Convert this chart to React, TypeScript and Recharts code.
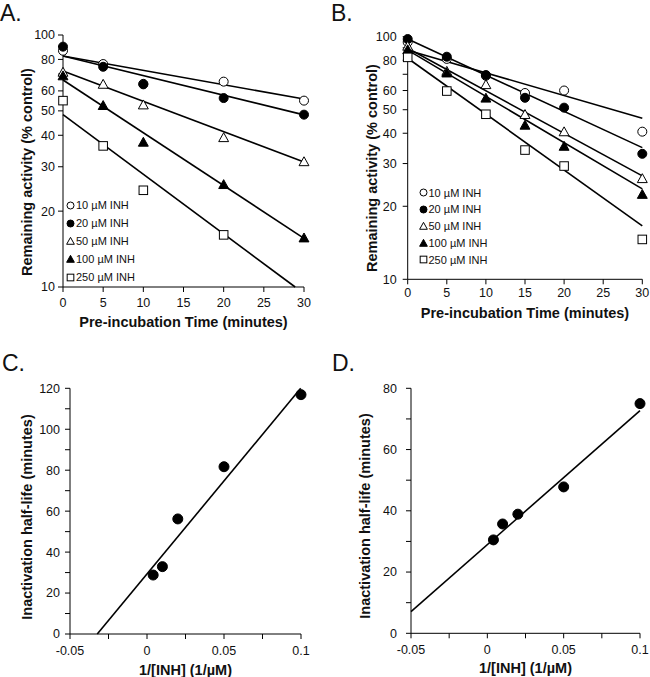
import { ComposedChart, Scatter, Line, XAxis, YAxis, Legend } from 'recharts';

const FONT = '"Liberation Sans", Arial, Helvetica, sans-serif';

// Panels A and B: remaining activity (% control) vs pre-incubation time (min)
const legendLabels = ['10 µM INH', '20 µM INH', '50 µM INH', '100 µM INH', '250 µM INH'];
const timesA = [0, 5, 10, 20, 30];
const a10 = [86.6, 76.7, 64.0, 65.3, 54.9];
const a20 = [89.9, 74.8, 63.7, 56.2, 48.3];
const a50 = [70.9, 63.5, 52.6, 39.0, 31.3];
const a100 = [68.6, 52.3, 37.4, 25.4, 15.6];
const a250 = [54.9, 36.3, 24.2, 16.1, null];

const timesB = [0, 5, 10, 15, 20, 30];
const b10 = [95, 81, 69, 58.6, 60, 40.6];
const b20 = [97.8, 82.7, 69.5, 56, 51, 32.9];
const b50 = [91, 71.7, 63.2, 47.6, 40.4, 25.9];
const b100 = [88, 70.6, 55.6, 43, 35.2, 22.3];
const b250 = [82.2, 59.7, 47.9, 34.1, 29.3, 14.6];

// fitted lines: [time, value] at start and end of each line
const fitA = [
  [[0, 82.5], [30, 55.7]],
  [[0, 82.5], [30, 48.2]],
  [[0, 72], [30, 31.3]],
  [[0, 66.3], [30, 15.6]],
  [[0, 48.3], [28.9, 10]],
];
const fitB = [
  [[0, 88], [30, 46.1]],
  [[0, 97.8], [30, 34.9]],
  [[0, 89.6], [30, 26.7]],
  [[0, 88], [30, 23.6]],
  [[0, 81.5], [30, 16.6]],
];

// Panels C and D: half-life vs 1/[INH]
const invInh = [0.004, 0.01, 0.02, 0.05, 0.1];
const halfC = [28.8, 32.9, 56.2, 81.7, 116.9];
const halfD = [30.5, 35.7, 38.9, 47.8, 75];
const fitCx = [-0.0323, 0.0998];
const fitCy = [0, 120];
const fitDx = [-0.05, 0.1];
const fitDy = [7.1, 72.7];

const logTicks = [10, 20, 30, 40, 50, 60, 70, 80, 90, 100];
const timeTicks = [0, 5, 10, 15, 20, 25, 30];
const invTicks = [-0.05, -0.025, 0, 0.025, 0.05, 0.075, 0.1];

const markerKinds = [
  { kind: 'circle', filled: false },
  { kind: 'circle', filled: true },
  { kind: 'triangle', filled: false },
  { kind: 'triangle', filled: true },
  { kind: 'square', filled: false },
];

const toPoints = (xs: number[], ys: (number | null)[]) =>
  xs.map((x, i) => ({ x, y: ys[i] })).filter((p) => p.y !== null && p.y !== undefined);

const pairsToPoints = (pairs: number[][]) => pairs.map(([x, y]) => ({ x, y }));

const Marker = ({ cx, cy, kind, filled, size }: any) => {
  const fill = filled ? '#000' : '#fff';
  if (cx == null || cy == null) return null;
  if (kind === 'circle') {
    return <circle cx={cx} cy={cy} r={size / 2} fill={fill} stroke="#000" strokeWidth={1} />;
  }
  if (kind === 'square') {
    const s = size * 0.95;
    return <rect x={cx - s / 2} y={cy - s / 2} width={s} height={s} fill={fill} stroke="#000" strokeWidth={1} />;
  }
  const w = size * 1.1;
  const h = w * 0.9;
  return (
    <polygon
      points={`${cx},${cy - h * 0.6} ${cx - w / 2},${cy + h * 0.4} ${cx + w / 2},${cy + h * 0.4}`}
      fill={fill}
      stroke="#000"
      strokeWidth={1}
    />
  );
};

const tickStyle = { fontSize: 12.5, fill: '#111' };
const axisLine = { stroke: '#000', strokeWidth: 1 };

const LegendBox = ({ rowHeight }: { rowHeight: number }) => (
  <div style={{ fontSize: 11, color: '#111', fontFamily: FONT }}>
    {legendLabels.map((label, i) => (
      <div key={label} style={{ display: 'flex', alignItems: 'center', height: rowHeight, whiteSpace: 'nowrap' }}>
        <svg width={9} height={9} style={{ marginRight: 1 }}>
          <Marker cx={4.5} cy={4.5} size={7} {...markerKinds[i]} />
        </svg>
        <span>{label}</span>
      </div>
    ))}
  </div>
);

const Title = ({ x, y, text, rotate }: { x: number; y: number; text: string; rotate?: boolean }) => (
  <div
    style={{
      position: 'absolute',
      left: x,
      top: y,
      transform: `translate(-50%, -50%)${rotate ? ' rotate(-90deg)' : ''}`,
      whiteSpace: 'nowrap',
      fontSize: 14.5,
      fontWeight: 'bold',
      color: '#111',
      lineHeight: 1,
    }}
  >
    {text}
  </div>
);

const PanelLetter = ({ x, y, text }: { x: number; y: number; text: string }) => (
  <div style={{ position: 'absolute', left: x, top: y, fontSize: 23, lineHeight: '23px', color: '#111' }}>{text}</div>
);

const hideLog = (v: number) => (v === 70 || v === 90 ? '' : String(v));
const everyOther = (step: number) => (v: number) => (Math.round(v / step) % 2 === 0 ? String(v) : '');
const invLabel = (v: number) => ([-0.05, 0, 0.05, 0.1].includes(v) ? String(v) : '');

const DecayPanel = ({ times, series, fits, margin, yWidth, xMargin, yMargin, legendPos, rowHeight }: any) => (
  <ComposedChart width={325} height={340} margin={margin}>
    <XAxis
      dataKey="x"
      type="number"
      domain={[0, 30]}
      ticks={timeTicks}
      interval={0}
      height={45}
      tick={tickStyle}
      tickSize={5}
      tickMargin={xMargin}
      axisLine={axisLine}
      tickLine={axisLine}
    />
    <YAxis
      dataKey="y"
      type="number"
      scale="log"
      domain={[10, 100]}
      ticks={logTicks}
      interval={0}
      width={yWidth}
      tick={tickStyle}
      tickFormatter={hideLog}
      tickSize={5}
      tickMargin={yMargin}
      axisLine={axisLine}
      tickLine={axisLine}
    />
    {fits.map((f: number[][], i: number) => (
      <Line
        key={`fit-${i}`}
        data={pairsToPoints(f)}
        dataKey="y"
        stroke="#000"
        strokeWidth={1.6}
        dot={false}
        activeDot={false}
        legendType="none"
        isAnimationActive={false}
      />
    ))}
    {series.map((s: (number | null)[], i: number) => (
      <Scatter
        key={`pts-${i}`}
        data={toPoints(times, s)}
        dataKey="y"
        legendType="none"
        isAnimationActive={false}
        shape={(p: any) => <Marker cx={p.cx} cy={p.cy} size={9} {...markerKinds[i]} />}
      />
    ))}
    <Legend
      layout="vertical"
      align="center"
      verticalAlign="middle"
      wrapperStyle={{ left: legendPos[0], top: legendPos[1], width: 'auto' }}
      content={() => <LegendBox rowHeight={rowHeight} />}
    />
  </ComposedChart>
);

const HalfLifePanel = ({ ys, fitX, fitY, yMax, margin, yWidth, yMargin }: any) => {
  const yTicks: number[] = [];
  for (let v = 0; v <= yMax; v += 10) yTicks.push(v);
  return (
    <ComposedChart width={325} height={337} margin={margin}>
      <XAxis
        dataKey="x"
        type="number"
        domain={[-0.05, 0.1]}
        ticks={invTicks}
        interval={0}
        height={40}
        tick={tickStyle}
        tickFormatter={invLabel}
        tickSize={5}
        tickMargin={7}
        axisLine={axisLine}
        tickLine={axisLine}
      />
      <YAxis
        dataKey="y"
        type="number"
        domain={[0, yMax]}
        ticks={yTicks}
        interval={0}
        width={yWidth}
        tick={tickStyle}
        tickFormatter={everyOther(10)}
        tickSize={5}
        tickMargin={yMargin}
        axisLine={axisLine}
        tickLine={axisLine}
      />
      <Line
        data={toPoints(fitX, fitY)}
        dataKey="y"
        stroke="#000"
        strokeWidth={1.6}
        dot={false}
        activeDot={false}
        isAnimationActive={false}
      />
      <Scatter
        data={toPoints(invInh, ys)}
        dataKey="y"
        isAnimationActive={false}
        shape={(p: any) => <Marker cx={p.cx} cy={p.cy} size={10} kind="circle" filled />}
      />
    </ComposedChart>
  );
};

export default function App() {
  return (
    <div
      style={{
        position: 'absolute',
        left: 0,
        top: 0,
        width: 650,
        height: 677,
        background: '#fff',
        fontFamily: FONT,
        overflow: 'hidden',
      }}
    >
      <div style={{ position: 'absolute', left: 0, top: 0 }}>
        <DecayPanel
          times={timesA}
          series={[a10, a20, a50, a100, a250]}
          fits={fitA}
          margin={{ top: 35, right: 21, bottom: 8, left: 0 }}
          yWidth={63}
          xMargin={6}
          yMargin={3}
          legendPos={[66, 196]}
          rowHeight={18}
        />
      </div>
      <div style={{ position: 'absolute', left: 325, top: 0 }}>
        <DecayPanel
          times={timesB}
          series={[b10, b20, b50, b100, b250]}
          fits={fitB}
          margin={{ top: 36.7, right: 7.7, bottom: 15.7, left: 0 }}
          yWidth={82.7}
          xMargin={4}
          yMargin={6}
          legendPos={[93.5, 184.3]}
          rowHeight={16.8}
        />
      </div>
      <div style={{ position: 'absolute', left: 0, top: 340 }}>
        <HalfLifePanel
          ys={halfC}
          fitX={fitCx}
          fitY={fitCy}
          yMax={120}
          margin={{ top: 48.3, right: 24, bottom: 3, left: 0 }}
          yWidth={70}
          yMargin={5}
        />
      </div>
      <div style={{ position: 'absolute', left: 325, top: 340 }}>
        <HalfLifePanel
          ys={halfD}
          fitX={fitDx}
          fitY={fitDy}
          yMax={80}
          margin={{ top: 48.3, right: 10, bottom: 3.7, left: 0 }}
          yWidth={86}
          yMargin={9}
        />
      </div>

      <PanelLetter x={0} y={1.5} text="A." />
      <PanelLetter x={331} y={2} text="B." />
      <PanelLetter x={2} y={352} text="C." />
      <PanelLetter x={332} y={352} text="D." />

      <Title x={27} y={172} text="Remaining activity (% control)" rotate />
      <Title x={183.5} y={322} text="Pre-incubation Time (minutes)" />
      <Title x={371.7} y={168} text="Remaining activity (% control)" rotate />
      <Title x={525} y={313} text="Pre-incubation Time (minutes)" />
      <Title x={27} y={517} text="Inactivation half-life (minutes)" rotate />
      <Title x={185.5} y={670} text="1/[INH] (1/µM)" />
      <Title x={365} y={516} text="Inactivation half-life (minutes)" rotate />
      <Title x={525.5} y={668} text="1/[INH] (1/µM)" />
    </div>
  );
}
